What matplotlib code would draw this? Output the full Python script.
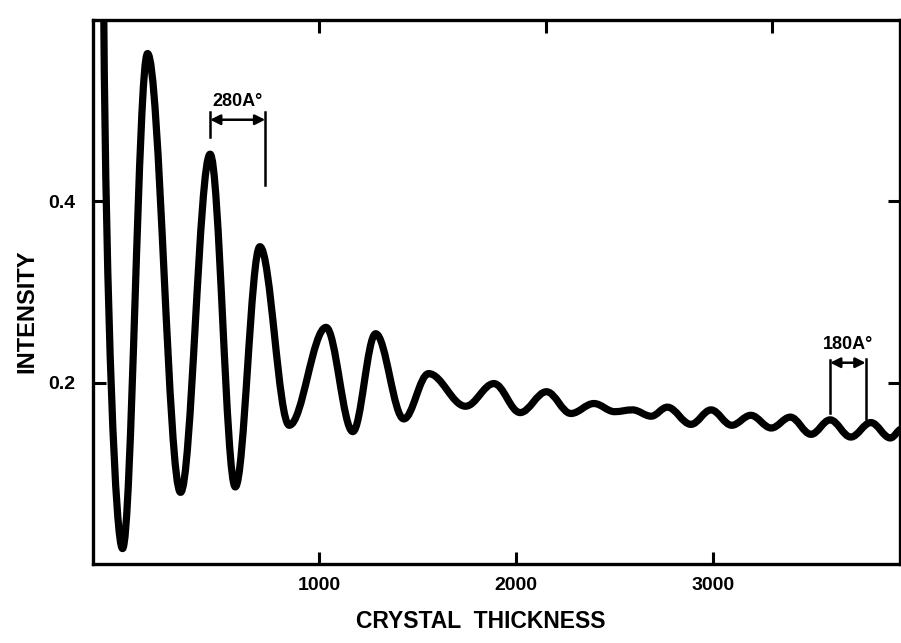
import numpy as np
import matplotlib.pyplot as plt
from matplotlib.path import Path
from matplotlib.patches import PathPatch

# turning points of the intensity curve (thickness in A)
thickness = [-95, 0, 127, 295, 445, 573, 698, 847, 1034, 1170, 1286, 1429,
             1555, 1743, 1887, 2020, 2154, 2278, 2395, 2500, 2591, 2686,
             2768, 2888, 2990, 3095, 3192, 3296, 3393, 3498, 3595, 3700,
             3802, 3901, 3960]
intensity = [0.60, 0.017, 0.563, 0.079, 0.452, 0.085, 0.350, 0.153, 0.261,
             0.146, 0.254, 0.160, 0.210, 0.174, 0.199, 0.167, 0.190, 0.166,
             0.177, 0.168, 0.170, 0.163, 0.173, 0.154, 0.170, 0.153, 0.164,
             0.150, 0.162, 0.143, 0.159, 0.140, 0.156, 0.139, 0.149]

xticks = [1000, 2000, 3000]
xticklabels = ["1000", "2000", "3000"]
top_ticks = [1000, 2150, 3300]
yticks = [0.2, 0.4]
yticklabels = ["0.2", "0.4"]

# period markers: (left thickness, width, height of arrow, label)
period_marks = [(445, 280, 0.490, "280A°"), (3595, 180, 0.222, "180A°")]
mark_spans = [((0.471, 0.499), (0.418, 0.498)), ((0.167, 0.225), (0.160, 0.226))]

FONT = ["Liberation Sans", "DejaVu Sans"]


def wave_path(ts, ys, k=0.36):
    # smooth bezier through the turning points, flat at each extremum
    verts = [(ts[0], ys[0])]
    codes = [Path.MOVETO]
    for i in range(len(ts) - 1):
        t0, y0, t1, y1 = ts[i], ys[i], ts[i + 1], ys[i + 1]
        dt = t1 - t0
        if i == 0:
            c1 = (t0 + 0.12 * dt, y0 + 0.55 * (y1 - y0))
        else:
            c1 = (t0 + k * dt, y0)
        c2 = (t1 - k * dt, y1)
        verts += [c1, c2, (t1, y1)]
        codes += [Path.CURVE4] * 3
    return Path(verts, codes)


fig = plt.figure(figsize=(9.01, 6.43), dpi=100)
ax = fig.add_axes([93 / 901, 1 - 564 / 643, (900 - 93) / 901, (564 - 20) / 643])

patch = PathPatch(wave_path(thickness, intensity), facecolor="none",
                  edgecolor="black", lw=5.2, capstyle="round", joinstyle="round")
ax.add_patch(patch)

ax.set_xlim(-150, 3950)
ax.set_ylim(0, 0.6)

for s in ax.spines.values():
    s.set_linewidth(2.4)

ax.set_xticks(xticks)
ax.set_xticklabels(xticklabels)
ax.set_yticks(yticks)
ax.set_yticklabels(yticklabels)
ax.tick_params(direction="in", length=9, width=2.2, top=False, right=True,
               labelsize=14)
ax.tick_params(axis="x", pad=9)
ax.tick_params(axis="y", pad=13)
for lab in ax.get_xticklabels() + ax.get_yticklabels():
    lab.set_family(FONT)
    lab.set_fontweight("bold")

top = ax.secondary_xaxis("top")
top.set_xticks(top_ticks)
top.set_xticklabels([])
top.tick_params(direction="in", length=9, width=2.2)
top.spines["top"].set_visible(False)

ax.set_xlabel("CRYSTAL  THICKNESS", family=FONT, fontweight="bold",
              fontsize=16.5)
ax.xaxis.set_label_coords(0.48, -0.085)
ax.set_ylabel("INTENSITY", family=FONT, fontweight="bold", fontsize=17)
ax.yaxis.set_label_coords(-0.068, 0.465)

# period markers
for (t0, w, ya, txt), (sl, sr) in zip(period_marks, mark_spans):
    ax.plot([t0, t0], sl, color="black", lw=1.8)
    ax.plot([t0 + w, t0 + w], sr, color="black", lw=1.8)
    ax.annotate("", xy=(t0 + w, ya), xytext=(t0, ya),
                arrowprops=dict(arrowstyle="<|-|>", color="black", lw=1.8,
                                mutation_scale=15, shrinkA=0, shrinkB=0))
    ax.text(t0 + w / 2, ya + 0.011, txt, ha="center", va="bottom",
            family=FONT, fontweight="bold", fontsize=13)

fig.savefig("out.png", dpi=100, facecolor="white")
